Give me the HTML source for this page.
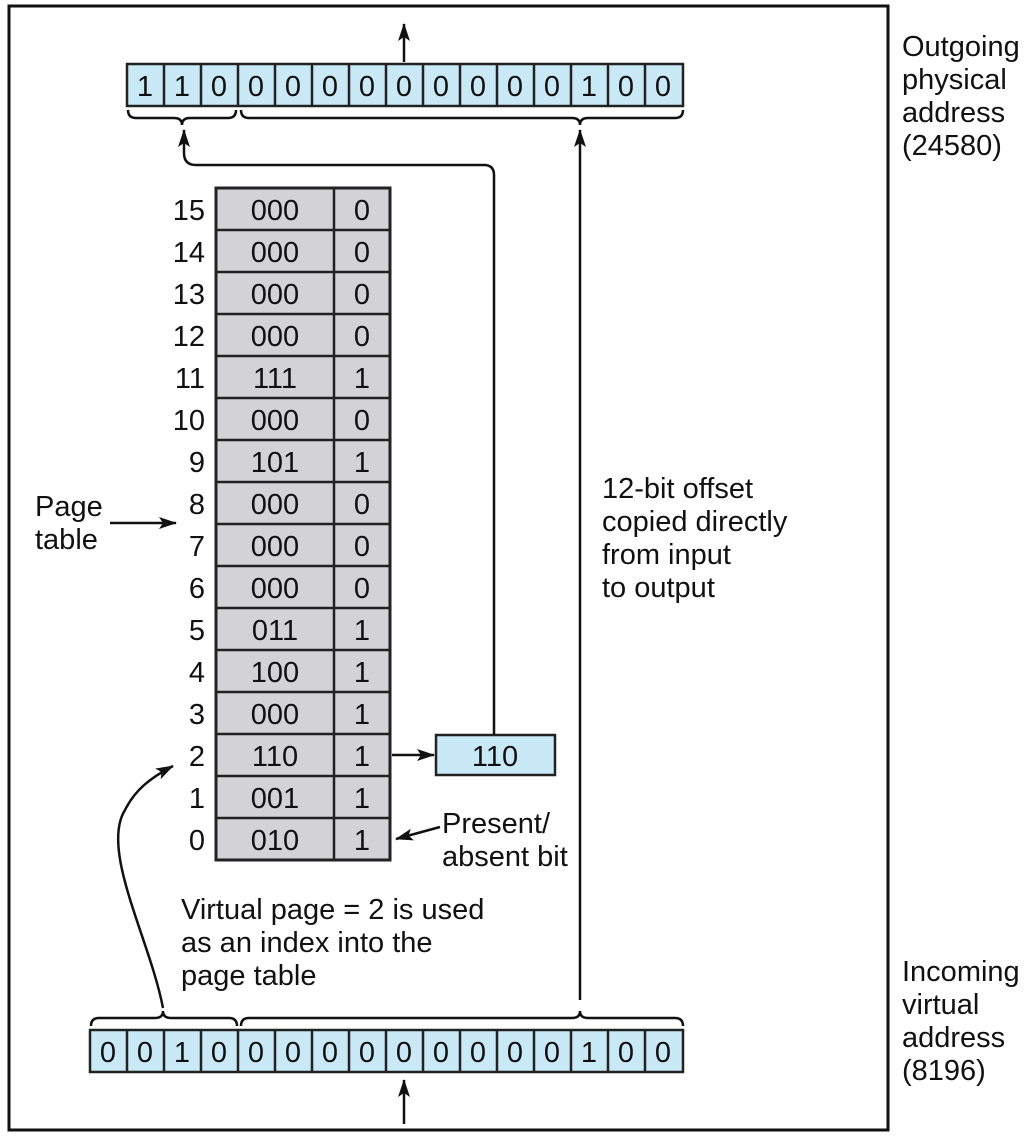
<!DOCTYPE html>
<html><head><style>
body{margin:0;background:#fff}
svg text{font-family:"Liberation Sans",sans-serif;font-size:29px;fill:#111}
</style></head><body>
<svg width="1024" height="1136" viewBox="0 0 1024 1136" xmlns="http://www.w3.org/2000/svg">
<defs><marker id="a" markerWidth="18" markerHeight="12" refX="17" refY="6" orient="auto" markerUnits="userSpaceOnUse"><path d="M0,0 L18,6 L0,12 L4,6z" fill="#111"/></marker></defs>
<rect x="9" y="6" width="879" height="1124" fill="none" stroke="#111" stroke-width="3"/>
<g stroke="#222" stroke-width="2.5">
<rect x="127" y="64" width="556" height="42" fill="#c9e9f6"/>
<path d="M164,64v42M201,64v42M238,64v42M275,64v42M312,64v42M349,64v42M386,64v42M423,64v42M460,64v42M497,64v42M534,64v42M571,64v42M608,64v42M645,64v42"/>
<rect x="90" y="1030" width="593" height="42" fill="#c9e9f6"/>
<path d="M127,1030v42M164,1030v42M201,1030v42M238,1030v42M275,1030v42M312,1030v42M349,1030v42M386,1030v42M423,1030v42M460,1030v42M497,1030v42M534,1030v42M571,1030v42M608,1030v42M645,1030v42"/>
<rect x="216" y="188" width="174" height="672" fill="#d3d3d5" stroke-width="3"/>
<path d="M334,188v672M216,230h174M216,272h174M216,314h174M216,356h174M216,398h174M216,440h174M216,482h174M216,524h174M216,566h174M216,608h174M216,650h174M216,692h174M216,734h174M216,776h174M216,818h174"/>
<rect x="436" y="735" width="119" height="40" fill="#c9e9f6"/>
</g>
<g text-anchor="middle">
<text x="145" y="96">1</text><text x="182" y="96">1</text><text x="219" y="96">0</text><text x="256" y="96">0</text><text x="293" y="96">0</text><text x="330" y="96">0</text><text x="367" y="96">0</text><text x="404" y="96">0</text><text x="441" y="96">0</text><text x="478" y="96">0</text><text x="515" y="96">0</text><text x="552" y="96">0</text><text x="589" y="96">1</text><text x="626" y="96">0</text><text x="663" y="96">0</text>
<text x="108" y="1062">0</text><text x="145" y="1062">0</text><text x="182" y="1062">1</text><text x="219" y="1062">0</text><text x="256" y="1062">0</text><text x="293" y="1062">0</text><text x="330" y="1062">0</text><text x="367" y="1062">0</text><text x="404" y="1062">0</text><text x="441" y="1062">0</text><text x="478" y="1062">0</text><text x="515" y="1062">0</text><text x="552" y="1062">0</text><text x="589" y="1062">1</text><text x="626" y="1062">0</text><text x="663" y="1062">0</text>
<text x="495" y="766">110</text>
</g>
<g text-anchor="middle">
<text x="275" y="220">000</text><text x="362" y="220">0</text>
<text x="275" y="262">000</text><text x="362" y="262">0</text>
<text x="275" y="304">000</text><text x="362" y="304">0</text>
<text x="275" y="346">000</text><text x="362" y="346">0</text>
<text x="275" y="388">111</text><text x="362" y="388">1</text>
<text x="275" y="430">000</text><text x="362" y="430">0</text>
<text x="275" y="472">101</text><text x="362" y="472">1</text>
<text x="275" y="514">000</text><text x="362" y="514">0</text>
<text x="275" y="556">000</text><text x="362" y="556">0</text>
<text x="275" y="598">000</text><text x="362" y="598">0</text>
<text x="275" y="640">011</text><text x="362" y="640">1</text>
<text x="275" y="682">100</text><text x="362" y="682">1</text>
<text x="275" y="724">000</text><text x="362" y="724">1</text>
<text x="275" y="766">110</text><text x="362" y="766">1</text>
<text x="275" y="808">001</text><text x="362" y="808">1</text>
<text x="275" y="850">010</text><text x="362" y="850">1</text>
</g>
<g text-anchor="end">
<text x="205" y="220">15</text><text x="205" y="262">14</text><text x="205" y="304">13</text><text x="205" y="346">12</text><text x="205" y="388">11</text><text x="205" y="430">10</text><text x="205" y="472">9</text><text x="205" y="514">8</text><text x="205" y="556">7</text><text x="205" y="598">6</text><text x="205" y="640">5</text><text x="205" y="682">4</text><text x="205" y="724">3</text><text x="205" y="766">2</text><text x="205" y="808">1</text><text x="205" y="850">0</text>
</g>
<g fill="none" stroke="#111" stroke-width="2.5">
<path d="M128,110 q0,8 8,8 h38 q8,0 8,7 q0,-7 8,-7 h38 q8,0 8,-8"/>
<path d="M241,110 q0,8 8,8 h323 q8,0 8,7 q0,-7 8,-7 h87 q8,0 8,-8"/>
<path d="M91,1026 q0,-8 8,-8 h56 q8,0 8,-7 q0,7 8,7 h58 q8,0 8,8"/>
<path d="M241,1026 q0,-8 8,-8 h323 q8,0 8,-7 q0,7 8,7 h87 q8,0 8,8"/>
<path d="M404,62 V24" marker-end="url(#a)"/>
<path d="M404,1124 V1080" marker-end="url(#a)"/>
<path d="M580,1000 V130" marker-end="url(#a)"/>
<path d="M494,735 V175 q0,-10 -10,-10 H196 q-12,0 -12,-12 V130" marker-end="url(#a)"/>
<path d="M392,755 H434" marker-end="url(#a)"/>
<path d="M163,1008 C150,940 100,850 125,810 C135,790 150,778 173,766" marker-end="url(#a)"/>
<path d="M110,523 H176" marker-end="url(#a)"/>
<path d="M440,827 L396,839" marker-end="url(#a)"/>
</g>
<text x="35" y="516">Page</text><text x="35" y="549">table</text>
<text x="442" y="833">Present/</text><text x="442" y="866">absent bit</text>
<text x="181" y="919">Virtual page = 2 is used</text>
<text x="181" y="952">as an index into the</text>
<text x="181" y="985">page table</text>
<text x="602" y="498">12-bit offset</text>
<text x="602" y="531">copied directly</text>
<text x="602" y="564">from input</text>
<text x="602" y="597">to output</text>
<text x="902" y="56">Outgoing</text><text x="902" y="89">physical</text><text x="902" y="122">address</text><text x="902" y="155">(24580)</text>
<text x="902" y="981">Incoming</text><text x="902" y="1014">virtual</text><text x="902" y="1047">address</text><text x="902" y="1080">(8196)</text>
</svg>
</body></html>
